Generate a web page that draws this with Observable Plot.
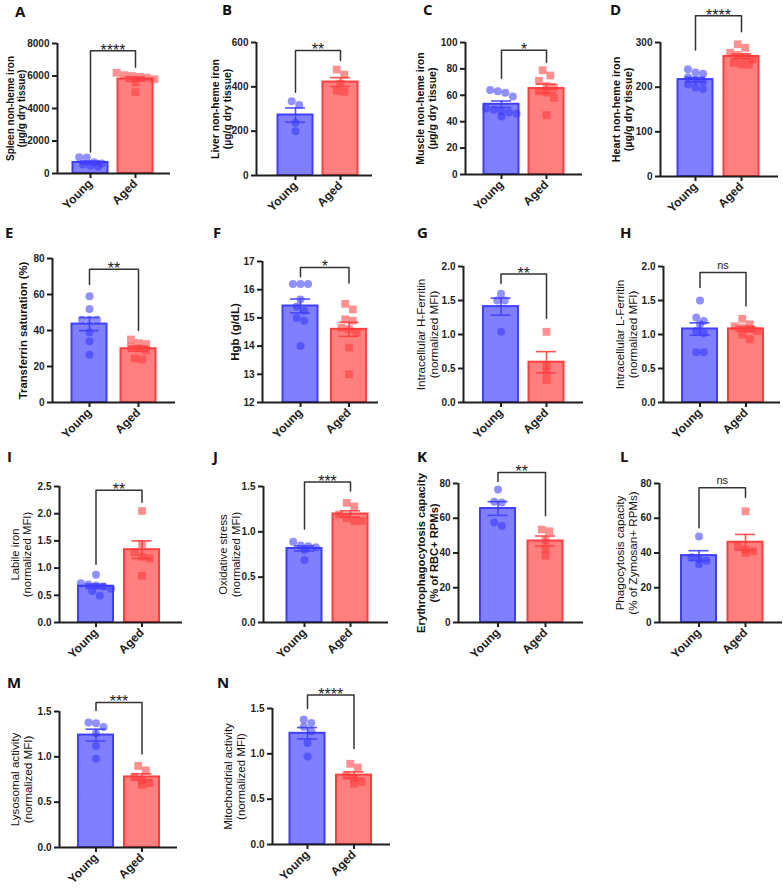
<!DOCTYPE html>
<html><head><meta charset="utf-8">
<script src="https://cdn.jsdelivr.net/npm/d3@7"></script>
<script src="https://cdn.jsdelivr.net/npm/@observablehq/plot@0.6"></script>
<style>
body{margin:0;background:#fff;}
#fig{position:relative;width:783px;height:888px;overflow:hidden;background:#fff;}
.panel{position:absolute;}
.letter{position:absolute;font-family:"Open Sans",sans-serif;font-weight:700;font-size:15px;line-height:15px;color:#111;}
</style></head><body><div id="fig"></div>
<script>
const groups = ["Young", "Aged"];
const panelLetters = ["A","B","C","D","E","F","G","H","I","J","K","L","M","N"];
const yLabels = [
  "Spleen non-heme iron\n(µg/g dry tissue)",
  "Liver non-heme iron\n(µg/g dry tissue)",
  "Muscle non-heme iron\n(µg/g dry tissue)",
  "Heart non-heme iron\n(µg/g dry tissue)",
  "Transferrin saturation (%)",
  "Hgb (g/dL)",
  "Intracellular H-Ferritin\n(normalized MFI)",
  "Intracellular L-Ferritin\n(normalized MFI)",
  "Labile iron\n(normalized MFI)",
  "Oxidative stress\n(normalized MFI)",
  "Erythrophagocytosis capacity\n(% of RBC+ RPMs)",
  "Phagocytosis capacity\n(% of Zymosan+ RPMs)",
  "Lysosomal activity\n(normalized MFI)",
  "Mitochondrial activity\n(normalized MFI)"
];
const yTicks = [
  [0, 2000, 4000, 6000, 8000],
  [0, 200, 400, 600],
  [0, 20, 40, 60, 80, 100],
  [0, 100, 200, 300],
  [0, 20, 40, 60, 80],
  [12, 13, 14, 15, 16, 17],
  [0, 0.5, 1.0, 1.5, 2.0],
  [0, 0.5, 1.0, 1.5, 2.0],
  [0, 0.5, 1.0, 1.5, 2.0, 2.5],
  [0, 0.5, 1.0, 1.5],
  [0, 20, 40, 60, 80],
  [0, 20, 40, 60, 80],
  [0, 0.5, 1.0, 1.5],
  [0, 0.5, 1.0, 1.5]
];
const youngValues = [
  [980, 1000, 700, 620, 560, 480, 420],
  [335, 318, 238, 200],
  [64, 63, 62, 59, 50, 49, 48, 47, 46, 44],
  [240, 233, 230, 222, 215, 212, 206, 199, 196],
  [59, 52, 46, 46, 46, 39, 34, 26.5],
  [16.2, 16.2, 16.2, 15.65, 15.4, 15.25, 15.0, 14.9, 14.0],
  [1.6, 1.5, 1.5, 1.04],
  [1.5, 1.25, 1.2, 1.15, 1.05, 1.02, 0.74, 0.74],
  [0.88, 0.72, 0.7, 0.68, 0.66, 0.62, 0.58, 0.49],
  [0.89, 0.85, 0.84, 0.83, 0.8, 0.69],
  [76.5, 69.5, 69, 57.5, 55.5],
  [49.5, 37.5, 36.5, 35.5, 33.5],
  [1.38, 1.37, 1.33, 1.26, 1.12, 0.98],
  [1.38, 1.34, 1.3, 1.25, 1.12, 0.97]
];
const agedValues = [
  [6050, 6200, 6000, 5900, 5950, 5800, 5000, 5600],
  [478, 455, 415, 382, 378],
  [79, 75, 71, 67, 66, 63, 62, 58, 45],
  [296, 288, 277, 272, 268, 262, 255, 251, 250],
  [35, 33, 32.5, 31, 30, 29, 24.5, 24],
  [15.5, 15.3, 14.95, 14.9, 14.65, 14.6, 14.5, 13.95, 13.0],
  [1.04, 0.55, 0.45, 0.33],
  [1.23, 1.15, 1.12, 1.1, 1.08, 1.05, 1.0, 0.93],
  [2.05, 1.44, 1.29, 1.21, 1.18, 0.86],
  [1.32, 1.28, 1.19, 1.15, 1.12, 1.12],
  [53.5, 52.5, 47.5, 42.5, 38.5],
  [64, 44, 42, 41, 40],
  [0.9, 0.85, 0.78, 0.74, 0.71, 0.69],
  [0.89, 0.85, 0.76, 0.73, 0.69, 0.67]
];
// significance bracket: [top level, left end, right end]
const brackets = [
  [7550, 1330, 6540],
  [564, 376, 519],
  [94.2, 73, 85],
  [360, 283, 324],
  [74, 65.5, 40],
  [16.79, 16.46, 16.24],
  [1.89, 1.75, 1.24],
  [1.91, 1.69, 1.42],
  [2.43, 1.07, 2.21],
  [1.55, 1.03, 1.45],
  [86.4, 81.2, 61.4],
  [77.5, 54.5, 71.9],
  [1.60, 1.51, 1.03],
  [1.65, 1.50, 1.06]
];
const sigLabels = ["****","**","*","****","**","*","**","ns","**","***","**","ns","***","****"];

// layout (pixels): grid cell, axis positions, bar centres, letter position, label style
const layout = [
  {col:0,row:0,axisX:57, axisEnd:170,c0:90,  c1:135,  topY:43, zeroY:173,labDx:-42,  lx:15, ly:7,   lw:"bold",  ls:10},
  {col:1,row:0,axisX:256,axisEnd:372,c0:295, c1:340,  topY:42, zeroY:175,labDx:-35,  lx:222,ly:5,   lw:"bold",  ls:10.4},
  {col:2,row:0,axisX:465,axisEnd:582,c0:501, c1:546,  topY:42, zeroY:174,labDx:-39,  lx:423,ly:5,   lw:"bold",  ls:10.6},
  {col:3,row:0,axisX:660,axisEnd:778,c0:695, c1:741,  topY:42, zeroY:176,labDx:-38,  lx:610,ly:5,   lw:"bold",  ls:10.8},
  {col:0,row:1,axisX:52, axisEnd:175,c0:89,  c1:138,  topY:258,zeroY:402,labDx:-29,  lx:5,  ly:228, lw:"bold",  ls:11.3},
  {col:1,row:1,axisX:262,axisEnd:378,c0:300, c1:348.5,topY:261,zeroY:402,labDx:-28,  lx:213,ly:228, lw:"bold",  ls:11.5},
  {col:2,row:1,axisX:463,axisEnd:583,c0:500.5,c1:546, topY:266,zeroY:402,labDx:-36,  lx:417,ly:228, lw:"normal",ls:11.6},
  {col:3,row:1,axisX:663,axisEnd:780,c0:699.5,c1:745.5,topY:266,zeroY:402,labDx:-37, lx:620,ly:228, lw:"normal",ls:11.6},
  {col:0,row:2,axisX:59, axisEnd:182,c0:95.5,c1:141.5,topY:486,zeroY:622,labDx:-38.5, lx:7,  ly:452, lw:"normal",ls:11.3},
  {col:1,row:2,axisX:263,axisEnd:388,c0:304, c1:350,  topY:486,zeroY:622,labDx:-34,  lx:213,ly:452, lw:"normal",ls:11.3},
  {col:2,row:2,axisX:458,axisEnd:583,c0:497.5,c1:545, topY:483,zeroY:622,labDx:-31,  lx:417,ly:452, lw:"bold",  ls:11.2},
  {col:3,row:2,axisX:659,axisEnd:782,c0:698.5,c1:745, topY:483,zeroY:622,labDx:-33,  lx:620,ly:452, lw:"normal",ls:11.6},
  {col:0,row:3,axisX:59, axisEnd:177,c0:95.5,c1:141.5,topY:711,zeroY:847,labDx:-38,  lx:7,  ly:678, lw:"normal",ls:11.6},
  {col:1,row:3,axisX:272,axisEnd:390,c0:307, c1:353.5,topY:708,zeroY:844,labDx:-38,  lx:217,ly:678, lw:"normal",ls:11.5}
];
const colLeft = [0, 195, 390, 585];
const rowTop = [0, 205, 430, 655];

const barFill = ["#7f7fff", "#ff7f7f"];
const barStroke = ["#3f3fff", "#ff3f3f"];
const dotFill = ["#3535ff", "#ff3535"];
const axisColor = "#1e1e1e";
const font = "'Liberation Sans', Arial, Helvetica, sans-serif";

function spreadOffsets(vals, center, unit, pxPerVal, r) {
  const order = d3.range(vals.length).sort((a, b) => vals[b] - vals[a]);
  const rows = [];
  for (const k of order) {
    const py = vals[k] * pxPerVal;
    const row = rows.find(rw => Math.abs(rw.py - py) < 1.6 * r);
    if (row) row.items.push(k); else rows.push({py, items: [k]});
  }
  const xs = [];
  for (const rw of rows) {
    const n = rw.items.length;
    rw.items.forEach((k, j) => xs[k] = center + (j - (n - 1) / 2) * (1.8 * r) / unit);
  }
  return xs;
}

const fig = document.getElementById("fig");

layout.forEach((L, i) => {
  const ticks = yTicks[i];
  const ymin = ticks[0], ymax = ticks[ticks.length - 1];
  const unit = L.c1 - L.c0;
  const xmin = -(L.c0 - L.axisX) / unit, xmax = (L.axisEnd - L.c0) / unit;
  const pxPerVal = (L.zeroY - L.topY) / (ymax - ymin);
  const half = 17.5 / unit, capHalf = 10 / unit;
  const stats = [youngValues[i], agedValues[i]].map((vals, g) => ({
    g, vals, mean: d3.mean(vals), sem: d3.deviation(vals) / Math.sqrt(vals.length)
  }));
  const pts = stats.map(G => {
    const xs = spreadOffsets(G.vals, G.g, unit, pxPerVal, 4.2);
    return G.vals.map((v, k) => ({g: G.g, v, x: xs[k]}));
  });
  const caps = stats.flatMap(d => [{g: d.g, v: d.mean - d.sem}, {g: d.g, v: d.mean + d.sem}]);
  const b = brackets[i];
  const bracketPath = [{x: 0, y: b[1]}, {x: 0, y: b[0]}, {x: 1, y: b[0]}, {x: 1, y: b[2]}];
  const isNs = sigLabels[i] === "ns";
  const decimals = ticks.some(t => !Number.isInteger(t));
  const fmt = decimals ? d3.format(".1f") : d3.format("d");

  const left = colLeft[L.col], top = rowTop[L.row];
  const marginLeft = L.axisX - left, marginTop = L.topY - top, marginBottom = 48, marginRight = 8;
  const width = L.axisEnd + marginRight - left;
  const height = L.zeroY - top + marginBottom;

  const chart = Plot.plot({
    width, height, marginLeft, marginRight, marginTop, marginBottom,
    style: {fontFamily: font, fontWeight: "bold", color: axisColor, background: "transparent", overflow: "visible"},
    x: {domain: [xmin, xmax]},
    y: {domain: [ymin, ymax]},
    marks: [
      Plot.rectY(stats, {x1: d => d.g - half, x2: d => d.g + half, y1: ymin, y2: "mean",
        fill: d => barFill[d.g], stroke: d => barStroke[d.g], strokeWidth: 2}),
      Plot.dot(pts[0], {x: "x", y: "v", r: 4, symbol: "circle", fill: dotFill[0], fillOpacity: 0.55}),
      Plot.dot(pts[1], {x: "x", y: "v", r: 4.4, symbol: "square", fill: dotFill[1], fillOpacity: 0.55}),
      Plot.ruleX(stats, {x: "g", y1: d => d.mean - d.sem, y2: d => d.mean + d.sem,
        stroke: d => barStroke[d.g], strokeWidth: 1.6, strokeOpacity: 0.9}),
      Plot.ruleY(caps, {y: "v", x1: d => d.g - capHalf, x2: d => d.g + capHalf,
        stroke: d => barStroke[d.g], strokeWidth: 1.6, strokeOpacity: 0.9}),
      Plot.ruleY([ymin], {stroke: axisColor, strokeWidth: 2}),
      Plot.ruleX([xmin], {stroke: axisColor, strokeWidth: 2}),
      Plot.axisY({ticks, tickFormat: fmt, tickSize: 5, tickPadding: 3, strokeWidth: 2, fontSize: 10, label: null}),
      Plot.axisX({ticks: [0, 1], tickFormat: k => groups[k], tickRotate: -45, tickSize: 5, tickPadding: 3,
        strokeWidth: 2, fontSize: 12, label: null}),
      Plot.line(bracketPath, {x: "x", y: "y", stroke: "#333", strokeWidth: 1.5}),
      Plot.text([sigLabels[i]], {x: 0.5, y: b[0], text: d => d, lineAnchor: "bottom",
        fontSize: isNs ? 11 : 16, dy: isNs ? -4 : 5, fontWeight: "normal", fill: "#222"}),
      Plot.text([yLabels[i]], {text: d => d, frameAnchor: "left", rotate: -90, dx: L.labDx,
        textAnchor: "middle", lineAnchor: "middle", fontSize: L.ls, lineHeight: 1.1, fontWeight: L.lw, fill: "#111"})
    ]
  });
  const div = document.createElement("div");
  div.className = "panel";
  div.style.left = left + "px";
  div.style.top = top + "px";
  div.style.width = width + "px";
  div.appendChild(chart);
  fig.appendChild(div);

  const lab = document.createElement("div");
  lab.className = "letter";
  lab.textContent = panelLetters[i];
  lab.style.left = L.lx + "px";
  lab.style.top = (L.ly - 3) + "px";
  fig.appendChild(lab);
});
</script>
</body></html>
